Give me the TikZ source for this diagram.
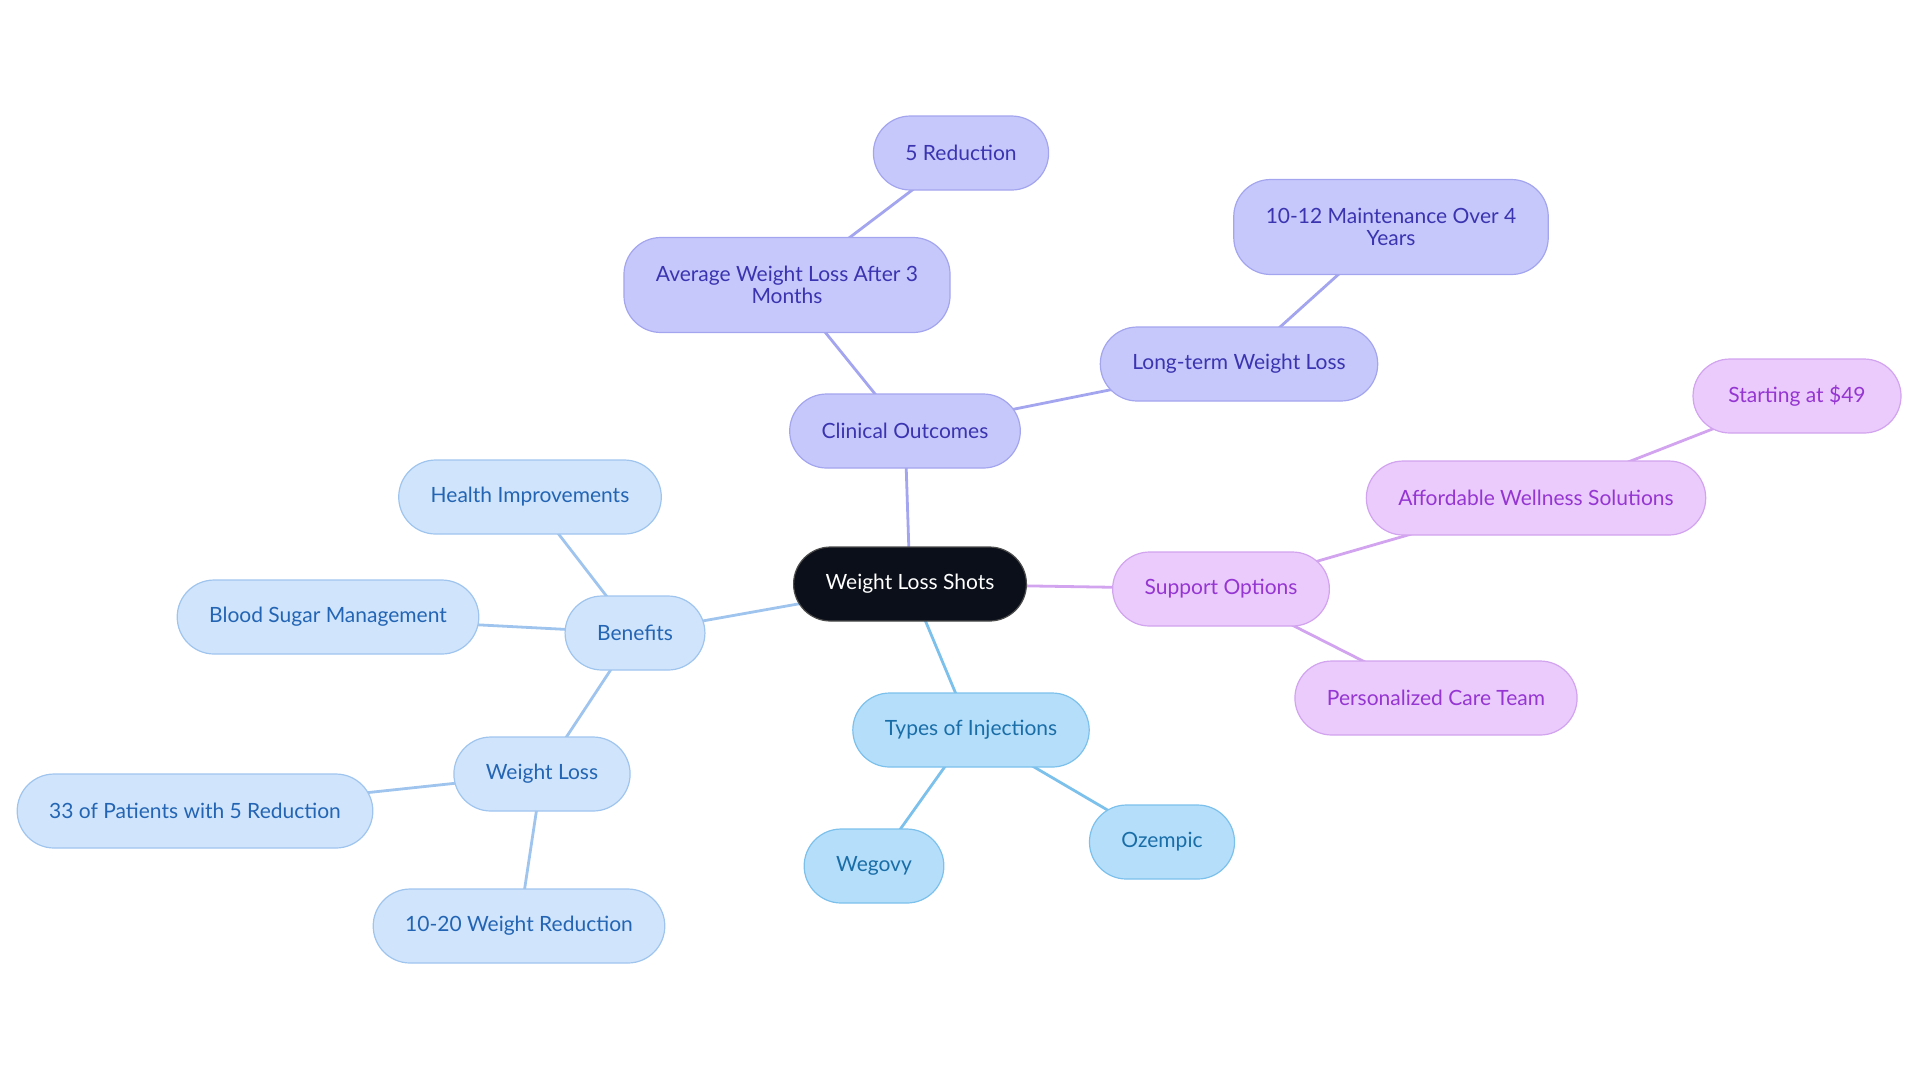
\documentclass[tikz,border=0pt]{standalone}
\usepackage{fontspec}
\setmainfont{Lato}
\usetikzlibrary{backgrounds}

\definecolor{rootfill}{HTML}{0B0F19}
\definecolor{indfill}{HTML}{C6C8FB}
\definecolor{inddraw}{HTML}{A3A5EE}
\definecolor{indtext}{HTML}{3A34B0}
\definecolor{vioFill}{HTML}{EACBFC}
\definecolor{viodraw}{HTML}{D2A3EF}
\definecolor{viotext}{HTML}{9535D2}
\definecolor{benfill}{HTML}{D0E4FB}
\definecolor{bendraw}{HTML}{9FC5EF}
\definecolor{bentext}{HTML}{2365B4}
\definecolor{injfill}{HTML}{B5DEFB}
\definecolor{injdraw}{HTML}{7CC0EC}
\definecolor{injtext}{HTML}{1A6EA8}

\begin{document}
\begin{tikzpicture}[x=0.5pt,y=-0.5pt,
  box/.style={rounded corners=18.5pt,minimum height=37pt,inner xsep=16pt,
    align=center,line width=0.6pt,font=\fontsize{10.5}{11}\selectfont},
  rootbox/.style={box,fill=rootfill,draw=gray!60!black,text=white},
  indbox/.style={box,fill=indfill,draw=inddraw,text=indtext},
  viobox/.style={box,fill=vioFill,draw=viodraw,text=viotext},
  benbox/.style={box,fill=benfill,draw=bendraw,text=bentext},
  injbox/.style={box,fill=injfill,draw=injdraw,text=injtext},
  tall/.style={minimum height=47.5pt},
  link/.style={line width=1.4pt}]
\useasboundingbox (0,0) rectangle (1920,1083);

\node[rootbox] (root) at (910,584) {Weight Loss Shots};

% clinical outcomes
\node[indbox] (clin) at (905,431) {Clinical Outcomes};
\node[indbox,tall] (avg) at (787,285) {Average Weight Loss After 3\\Months};
\node[indbox] (five) at (961,153) {5 Reduction};
\node[indbox] (long) at (1239,364) {Long-term Weight Loss};
\node[indbox,tall] (maint) at (1391,227) {10-12 Maintenance Over 4\\Years};

% support
\node[viobox] (supp) at (1221,589) {Support Options};
\node[viobox] (afford) at (1536,498) {Affordable Wellness Solutions};
\node[viobox,minimum width=104pt] (start) at (1797,396) {Starting at \$49};
\node[viobox] (care) at (1436,698) {Personalized Care Team};

% injections
\node[injbox] (types) at (971,730) {Types of Injections};
\node[injbox] (wegovy) at (874,866) {Wegovy};
\node[injbox] (ozempic) at (1162,842) {Ozempic};

% benefits
\node[benbox] (ben) at (635,633) {Benefits};
\node[benbox] (health) at (530,497) {Health Improvements};
\node[benbox] (blood) at (328,617) {Blood Sugar Management};
\node[benbox] (wl) at (542,774) {Weight Loss};
\node[benbox] (pat) at (195,811) {33 of Patients with 5 Reduction};
\node[benbox] (red) at (519,926) {10-20 Weight Reduction};

\begin{scope}[on background layer]
\foreach \a/\b in {root/clin,clin/avg,avg/five,clin/long,long/maint}
{
    \draw[link,inddraw] (\a.center)--(\b.center);
}
\foreach \a/\b in {root/supp,supp/afford,afford/start,supp/care}
{
    \draw[link,viodraw] (\a.center)--(\b.center);
}
\foreach \a/\b in {root/types,types/wegovy,types/ozempic}
{
    \draw[link,injdraw] (\a.center)--(\b.center);
}
\foreach \a/\b in {root/ben,ben/health,ben/blood,ben/wl,wl/pat,wl/red}
{
    \draw[link,bendraw] (\a.center)--(\b.center);
}
\end{scope}
\end{tikzpicture}
\end{document}
